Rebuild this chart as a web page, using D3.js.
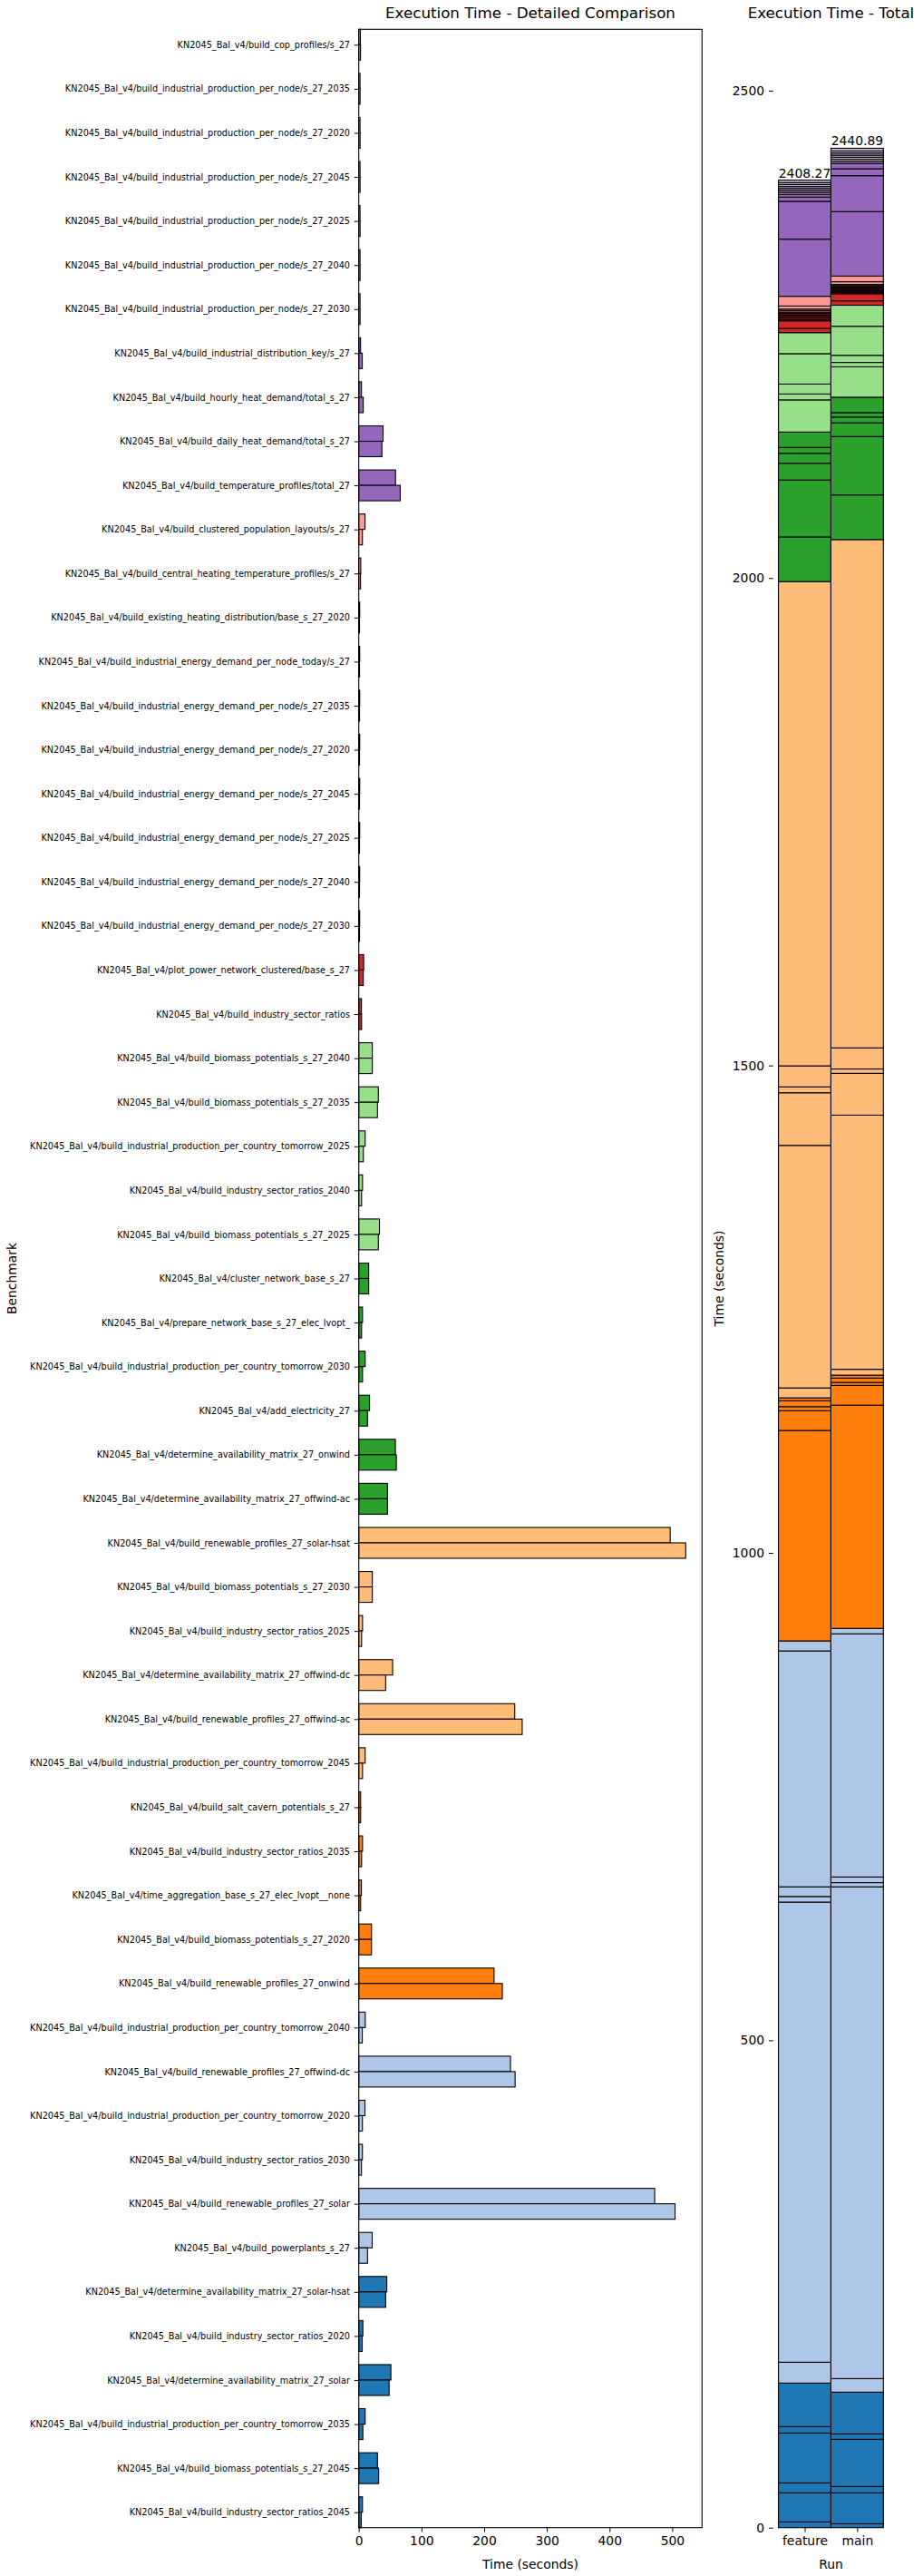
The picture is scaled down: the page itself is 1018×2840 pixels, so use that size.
<!DOCTYPE html>
<html><head><meta charset="utf-8">
<script src="https://cdn.jsdelivr.net/npm/d3@7"></script>
<style>body{margin:0;background:#fff} svg text{font-family:"DejaVu Sans",sans-serif;fill:#000}</style>
</head><body>
<svg id="chart" width="1018" height="2840"></svg>
<script>
const P = "KN2045_Bal_v4/";
const benchmarks = [
"build_cop_profiles/s_27",
"build_industrial_production_per_node/s_27_2035",
"build_industrial_production_per_node/s_27_2020",
"build_industrial_production_per_node/s_27_2045",
"build_industrial_production_per_node/s_27_2025",
"build_industrial_production_per_node/s_27_2040",
"build_industrial_production_per_node/s_27_2030",
"build_industrial_distribution_key/s_27",
"build_hourly_heat_demand/total_s_27",
"build_daily_heat_demand/total_s_27",
"build_temperature_profiles/total_27",
"build_clustered_population_layouts/s_27",
"build_central_heating_temperature_profiles/s_27",
"build_existing_heating_distribution/base_s_27_2020",
"build_industrial_energy_demand_per_node_today/s_27",
"build_industrial_energy_demand_per_node/s_27_2035",
"build_industrial_energy_demand_per_node/s_27_2020",
"build_industrial_energy_demand_per_node/s_27_2045",
"build_industrial_energy_demand_per_node/s_27_2025",
"build_industrial_energy_demand_per_node/s_27_2040",
"build_industrial_energy_demand_per_node/s_27_2030",
"plot_power_network_clustered/base_s_27",
"build_industry_sector_ratios",
"build_biomass_potentials_s_27_2040",
"build_biomass_potentials_s_27_2035",
"build_industrial_production_per_country_tomorrow_2025",
"build_industry_sector_ratios_2040",
"build_biomass_potentials_s_27_2025",
"cluster_network_base_s_27",
"prepare_network_base_s_27_elec_lvopt_",
"build_industrial_production_per_country_tomorrow_2030",
"add_electricity_27",
"determine_availability_matrix_27_onwind",
"determine_availability_matrix_27_offwind-ac",
"build_renewable_profiles_27_solar-hsat",
"build_biomass_potentials_s_27_2030",
"build_industry_sector_ratios_2025",
"determine_availability_matrix_27_offwind-dc",
"build_renewable_profiles_27_offwind-ac",
"build_industrial_production_per_country_tomorrow_2045",
"build_salt_cavern_potentials_s_27",
"build_industry_sector_ratios_2035",
"time_aggregation_base_s_27_elec_lvopt__none",
"build_biomass_potentials_s_27_2020",
"build_renewable_profiles_27_onwind",
"build_industrial_production_per_country_tomorrow_2040",
"build_renewable_profiles_27_offwind-dc",
"build_industrial_production_per_country_tomorrow_2020",
"build_industry_sector_ratios_2030",
"build_renewable_profiles_27_solar",
"build_powerplants_s_27",
"determine_availability_matrix_27_solar-hsat",
"build_industry_sector_ratios_2020",
"determine_availability_matrix_27_solar",
"build_industrial_production_per_country_tomorrow_2035",
"build_biomass_potentials_s_27_2045",
"build_industry_sector_ratios_2045"
].map(s => P + s);

const featureTimes = [2.6, 2.0,2.0,2.0,2.0,2.0,2.0, 2.9, 4.3, 38.8, 58.6, 10.0, 3.2, 1.5, 1.5,
 1.5,1.5,1.5,1.5,1.5,1.5, 7.8, 4.3, 21.6, 31.2, 10.2, 6.0, 33.0, 15.8, 6.0, 10.2, 17.2, 58.4, 45.8,
 496.77, 21.6, 6.0, 54.0, 248.8, 10.2, 3.0, 6.0, 4.2, 20.3, 215.8, 10.3, 242.0, 9.9, 5.8, 472.0,
 21.4, 44.7, 6.5, 51.2, 10.2, 29.8, 5.9];

const mainTimes = [2.8, 2.1,2.1,2.1,2.1,2.1,2.1, 5.6, 7.1, 36.9, 66.1, 5.8, 2.8, 1.2, 1.2,
 1.2,1.2,1.2,1.2,1.2,1.2, 7.2, 4.5, 21.6, 29.8, 7.3, 4.5, 31.2, 15.8, 4.5, 6.0, 14.0, 59.9, 45.8,
 521.49, 21.6, 4.5, 42.9, 260.7, 6.0, 3.0, 4.5, 3.0, 20.3, 229.0, 5.6, 249.4, 5.8, 4.3, 504.5,
 13.9, 42.9, 5.5, 48.4, 6.5, 31.7, 4.0];

const runs = ["feature", "main"];
const palette = ["#c5b0d5","#9467bd","#ff9896","#d62728","#98df8a","#2ca02c","#ffbb78","#ff7f0e","#aec7e8","#1f77b4"];
const colorGroup = [0,0,0,0,0,0,0, 1,1,1,1, 2,2,2,2, 3,3,3,3,3,3,3,3, 4,4,4,4,4, 5,5,5,5,5,5, 6,6,6,6,6,6, 7,7,7,7,7, 8,8,8,8,8,8, 9,9,9,9,9,9];
const xTicksDetail = [0,100,200,300,400,500];
const yTicksTotal = [0,500,1000,1500,2000,2500];

const n = benchmarks.length;
const svg = d3.select("#chart");
const FS_TICK = 13.9, FS_SMALL = 9.7, FS_TITLE = 16.7;
const L = {x0: 395.7, x1: 774.3, y0: 32.3, y1: 2786.7};
const R = {x0: 852.8, x1: 980.1};
const TL = 4.86;

// ---------- left: detailed comparison ----------
const maxVal = d3.max([...featureTimes, ...mainTimes]);
const x = d3.scaleLinear().domain([0, maxVal * 1.05]).range([L.x0, L.x1]);
const y = d3.scaleLinear().domain([-0.35, n - 1 + 0.35]).range([L.y1, L.y0]);
const pos = i => n - 1 - i;
const series = [featureTimes, mainTimes];

const gL = svg.append("g");
series.forEach((vals, s) => {
  gL.selectAll(null).data(vals).enter().append("rect")
    .attr("x", x(0))
    .attr("y", (d, i) => s === 0 ? y(pos(i) + 0.35) : y(pos(i)))
    .attr("width", d => x(d) - x(0))
    .attr("height", y(0) - y(0.35))
    .attr("fill", (d, i) => palette[colorGroup[i]])
    .attr("stroke", "#000").attr("stroke-width", 1.1);
});
gL.append("rect").attr("x", L.x0).attr("y", L.y0).attr("width", L.x1 - L.x0).attr("height", L.y1 - L.y0)
  .attr("fill", "none").attr("stroke", "#000").attr("stroke-width", 1.1);

const yAxisL = gL.append("g").attr("transform", `translate(${L.x0},0)`)
  .call(d3.axisLeft(y).tickValues(d3.range(n)).tickFormat(p => benchmarks[n - 1 - p]).tickSize(TL).tickPadding(4.86));
yAxisL.select(".domain").remove();
yAxisL.selectAll("text").attr("font-size", FS_SMALL).attr("font-family", "DejaVu Sans");
yAxisL.selectAll("line").attr("stroke", "#000");

const xAxisL = gL.append("g").attr("transform", `translate(0,${L.y1})`)
  .call(d3.axisBottom(x).tickValues(xTicksDetail).tickSize(TL).tickPadding(4.86));
xAxisL.select(".domain").remove();
xAxisL.selectAll("text").attr("font-size", FS_TICK).attr("font-family", "DejaVu Sans");

svg.append("text").attr("x", (L.x0 + L.x1) / 2).attr("y", 20).attr("text-anchor", "middle")
  .attr("font-size", FS_TITLE).text("Execution Time - Detailed Comparison");
svg.append("text").attr("x", (L.x0 + L.x1) / 2).attr("y", 2832).attr("text-anchor", "middle")
  .attr("font-size", FS_TICK).text("Time (seconds)");
svg.append("text").attr("transform", `translate(18,${(L.y0 + L.y1) / 2}) rotate(-90)`).attr("text-anchor", "middle")
  .attr("font-size", FS_TICK).text("Benchmark");

// ---------- right: stacked totals ----------
const totals = series.map(v => d3.sum(v));
const xr = d3.scaleLinear().domain([-0.6, 1.6]).range([R.x0, R.x1]);
const yr = d3.scaleLinear().domain([0, d3.max(totals) * 1.05]).range([L.y1, L.y0]);
const gR = svg.append("g");
series.forEach((vals, s) => {
  let cum = 0;
  const segs = [];
  for (let i = n - 1; i >= 0; i--) { segs.push({i, y0: cum, y1: cum + vals[i]}); cum += vals[i]; }
  gR.selectAll(null).data(segs).enter().append("rect")
    .attr("x", xr(s - 0.5)).attr("width", xr(s + 0.5) - xr(s - 0.5))
    .attr("y", d => yr(d.y1)).attr("height", d => yr(d.y0) - yr(d.y1))
    .attr("fill", d => palette[colorGroup[d.i]])
    .attr("stroke", "#000").attr("stroke-width", 1.1);
  gR.append("text").attr("x", xr(s)).attr("y", yr(totals[s]) - 3).attr("text-anchor", "middle")
    .attr("font-size", FS_TICK).text(totals[s].toFixed(2));
});
const yAxisR = gR.append("g").attr("transform", `translate(${R.x0},0)`)
  .call(d3.axisLeft(yr).tickValues(yTicksTotal).tickFormat(d3.format("d")).tickSize(TL).tickPadding(4.86));
yAxisR.select(".domain").remove();
yAxisR.selectAll("text").attr("font-size", FS_TICK).attr("font-family", "DejaVu Sans");
const xAxisR = gR.append("g").attr("transform", `translate(0,${L.y1})`)
  .call(d3.axisBottom(xr).tickValues([0, 1]).tickFormat(i => runs[i]).tickSize(TL).tickPadding(4.86));
xAxisR.select(".domain").remove();
xAxisR.selectAll("text").attr("font-size", FS_TICK).attr("font-family", "DejaVu Sans");

svg.append("text").attr("x", (R.x0 + R.x1) / 2).attr("y", 20).attr("text-anchor", "middle")
  .attr("font-size", FS_TITLE).text("Execution Time - Total");
svg.append("text").attr("x", (R.x0 + R.x1) / 2).attr("y", 2832).attr("text-anchor", "middle")
  .attr("font-size", FS_TICK).text("Run");
svg.append("text").attr("transform", `translate(798,${(L.y0 + L.y1) / 2}) rotate(-90)`).attr("text-anchor", "middle")
  .attr("font-size", FS_TICK).text("Time (seconds)");
</script>
</body></html>
